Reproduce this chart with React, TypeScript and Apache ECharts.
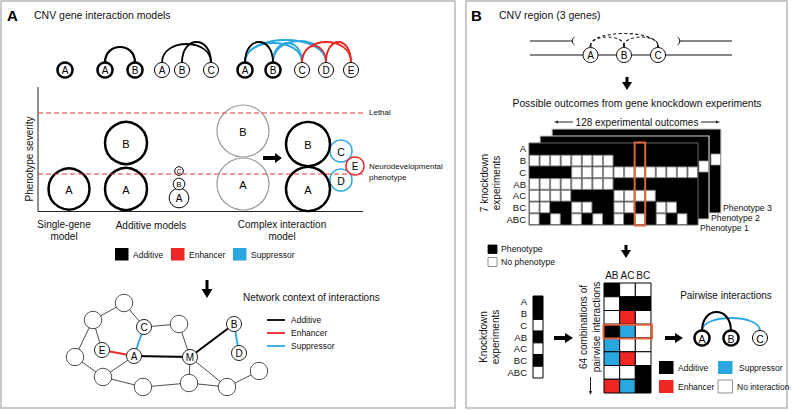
import React, { useEffect, useRef } from 'react';
import * as echarts from 'echarts';

const FONT = '"Liberation Sans", Arial, Helvetica, sans-serif';
const BLACK = '#000000';
const RED = '#ee2624';
const BLUE = '#2ba7e0';
const GRAY = '#9a9a9a';
const ORANGE = '#e0643c';
const TXT = '#111111';

// ---------- data ----------
const knockdownRows = ['A', 'B', 'C', 'AB', 'AC', 'BC', 'ABC'];
const outcomeMatrix = [
  [1, 1, 1, 1, 1, 1, 1, 1, 1, 1, 1, 1, 1, 1, 1, 1],
  [0, 0, 0, 0, 0, 0, 0, 0, 1, 1, 1, 1, 1, 1, 1, 1],
  [1, 1, 1, 1, 0, 0, 0, 0, 0, 0, 0, 0, 0, 0, 0, 0],
  [0, 0, 0, 0, 0, 0, 0, 0, 1, 1, 1, 1, 1, 1, 1, 1],
  [0, 0, 0, 0, 1, 1, 1, 1, 0, 0, 0, 0, 1, 1, 1, 1],
  [0, 0, 1, 1, 0, 0, 1, 1, 0, 0, 1, 1, 0, 0, 1, 1],
  [0, 1, 0, 1, 0, 1, 0, 1, 0, 1, 0, 1, 0, 1, 0, 1],
];
const highlightedOutcome = 10;
const phenotypeLabels = ['Phenotype 1', 'Phenotype 2', 'Phenotype 3'];
const selectedKnockdown = [1, 1, 0, 1, 0, 1, 0];
const pairNames = ['AB', 'AC', 'BC'];
const pairCombos = [
  ['add', 'none', 'none'],
  ['none', 'add', 'add'],
  ['none', 'enh', 'none'],
  ['add', 'sup', 'none'],
  ['sup', 'none', 'none'],
  ['sup', 'enh', 'none'],
  ['none', 'none', 'add'],
  ['enh', 'sup', 'add'],
];
const highlightedCombo = 3;
const interactionColors: Record<string, string> = { add: BLACK, enh: RED, sup: BLUE, none: '#ffffff' };
const modelLabels = ['Single-gene\nmodel', 'Additive models', 'Complex interaction\nmodel'];
const thresholdLabels = ['Lethal', 'Neurodevelopmental\nphenotype'];
const legendA = [
  { name: 'Additive', color: BLACK },
  { name: 'Enhancer', color: RED },
  { name: 'Suppressor', color: BLUE },
];

const netNodes = [
  { id: 'n1', x: 124, y: 303 }, { id: 'n2', x: 93, y: 320 }, { id: 'n3', x: 75, y: 357 },
  { id: 'E', x: 102, y: 350, label: 'E' }, { id: 'A', x: 134, y: 356, label: 'A' },
  { id: 'C', x: 144, y: 327, label: 'C' }, { id: 'n4', x: 179, y: 324 },
  { id: 'M', x: 190, y: 357, label: 'M' }, { id: 'B', x: 234, y: 324, label: 'B' },
  { id: 'D', x: 239, y: 353, label: 'D' }, { id: 'n5', x: 103, y: 377 },
  { id: 'n6', x: 143, y: 387 }, { id: 'n7', x: 189, y: 383 }, { id: 'n8', x: 227, y: 387 },
  { id: 'n9', x: 259, y: 371 },
];
const netEdges = [
  ['n1', 'n2', 'thin'], ['n1', 'C', 'thin'], ['n2', 'n3', 'thin'], ['n2', 'E', 'thin'],
  ['n3', 'n5', 'thin'], ['n5', 'A', 'thin'], ['n5', 'n6', 'thin'], ['n6', 'n7', 'thin'],
  ['n7', 'M', 'thin'], ['M', 'n8', 'thin'], ['n7', 'n8', 'thin'], ['n8', 'n9', 'thin'],
  ['C', 'n4', 'thin'], ['n4', 'M', 'thin'],
  ['E', 'A', 'enh'], ['A', 'C', 'sup'], ['A', 'M', 'add'], ['M', 'B', 'add'], ['B', 'D', 'sup'],
];

// ---------- helpers ----------
type Opt = { align?: string; bold?: boolean; color?: string; rotation?: number; lineHeight?: number; va?: string };
function T(text: string, x: number, y: number, size: number, o: Opt = {}) {
  const align = o.align || 'left';
  const va = o.va || 'middle';
  return {
    type: 'text', x, y, rotation: o.rotation || 0, silent: true,
    style: {
      text, x: 0, y: 0, fill: o.color || TXT, fontSize: size, fontFamily: FONT,
      fontWeight: o.bold ? 'bold' : 'normal', align, verticalAlign: va,
      textAlign: align, textVerticalAlign: va, lineHeight: o.lineHeight || size * 1.15,
    },
  };
}
function C(cx: number, cy: number, r: number, stroke: string, lw: number, label?: string, fs?: number) {
  const els: any[] = [{ type: 'circle', shape: { cx, cy, r }, style: { fill: '#fff', stroke, lineWidth: lw } }];
  if (label) els.push(T(label, cx, cy + 0.5, fs || 9, { align: 'center', color: '#000' }));
  return els;
}
function L(x1: number, y1: number, x2: number, y2: number, stroke: string, lw: number, dash?: number[]) {
  return { type: 'line', shape: { x1, y1, x2, y2 }, style: { stroke, lineWidth: lw, lineDash: dash } };
}
function R(x: number, y: number, w: number, h: number, fill: string, stroke?: string, lw = 1) {
  return { type: 'rect', shape: { x, y, width: w, height: h }, style: { fill, stroke: stroke || 'none', lineWidth: lw } };
}
function arcLink(xa: number, xb: number, yb: number, peak: number, stroke: string, lw: number, dash?: number[]) {
  const H = (yb - peak) / 0.75;
  return {
    type: 'bezierCurve',
    shape: { x1: xa, y1: yb, x2: xb, y2: yb, cpx1: xa, cpy1: yb - H, cpx2: xb, cpy2: yb - H },
    style: { stroke, lineWidth: lw, fill: 'none', lineDash: dash },
  };
}
function fatArrow(x1: number, y1: number, x2: number, y2: number, hl: number, hw: number, sw: number) {
  const dx = x2 - x1, dy = y2 - y1; const len = Math.hypot(dx, dy);
  const ux = dx / len, uy = dy / len; const nx = -uy, ny = ux;
  const bx = x2 - ux * hl, by = y2 - uy * hl;
  const pts = [
    [x1 + nx * sw / 2, y1 + ny * sw / 2], [bx + nx * sw / 2, by + ny * sw / 2], [bx + nx * hw / 2, by + ny * hw / 2],
    [x2, y2], [bx - nx * hw / 2, by - ny * hw / 2], [bx - nx * sw / 2, by - ny * sw / 2], [x1 - nx * sw / 2, y1 - ny * sw / 2],
  ];
  return { type: 'polygon', shape: { points: pts }, style: { fill: BLACK } };
}
function thinArrow(x1: number, y1: number, x2: number, y2: number) {
  const dx = x2 - x1, dy = y2 - y1; const len = Math.hypot(dx, dy);
  const ux = dx / len, uy = dy / len; const nx = -uy, ny = ux;
  const hl = 4, hw = 3.2;
  const bx = x2 - ux * hl, by = y2 - uy * hl;
  return [
    L(x1, y1, bx, by, '#222', 1),
    { type: 'polygon', shape: { points: [[x2, y2], [bx + nx * hw / 2, by + ny * hw / 2], [bx - nx * hw / 2, by - ny * hw / 2]] }, style: { fill: '#222' } },
  ];
}

function buildElements() {
  const els: any[] = [];
  // panel frames
  els.push(R(1, 1, 454, 407, 'none', '#b8b8b8', 1.5));
  els.push(R(466, 1, 321, 407, 'none', '#b8b8b8', 1.5));

  // ===== Panel A =====
  els.push(T('A', 7, 15, 15, { bold: true, color: '#000' }));
  els.push(T('CNV gene interaction models', 34, 15, 10.5));

  // top interaction models row
  const ty = 70, tr = 7.5, top = ty - tr;
  els.push(arcLink(105, 135, top, 47, BLACK, 2.2));
  els.push(arcLink(162, 211, top, 44, BLACK, 1.8));
  els.push(arcLink(182, 211, top, 42, BLACK, 1.8));
  els.push(arcLink(245, 302, top, 43, BLUE, 1.8));
  els.push(arcLink(273, 302, top, 43, BLUE, 1.8));
  els.push(arcLink(273, 326, top, 41, BLUE, 1.8));
  els.push(arcLink(245, 326, top, 40, BLUE, 1.8));
  els.push(arcLink(302, 351, top, 42, RED, 1.8));
  els.push(arcLink(326, 351, top, 42, RED, 1.8));
  els.push(arcLink(302, 326, top, 46, RED, 1.5));
  els.push(arcLink(245, 273, top, 42, BLACK, 1.8));
  els.push(...C(65, ty, tr, BLACK, 2.5, 'A', 10));
  els.push(...C(105, ty, tr, BLACK, 2.5, 'A', 10));
  els.push(...C(135, ty, tr, BLACK, 2.5, 'B', 10));
  els.push(...C(162, ty, tr, BLACK, 1, 'A', 10));
  els.push(...C(182, ty, tr, BLACK, 1, 'B', 10));
  els.push(...C(211, ty, tr, BLACK, 1, 'C', 10));
  els.push(...C(245, ty, tr, BLACK, 2.5, 'A', 10));
  els.push(...C(273, ty, tr, BLACK, 2.5, 'B', 10));
  els.push(...C(302, ty, tr, BLACK, 1, 'C', 10));
  els.push(...C(326, ty, tr, BLACK, 1, 'D', 10));
  els.push(...C(351, ty, tr, BLACK, 1, 'E', 10));

  // axes
  els.push(L(38, 87, 38, 211.5, '#222', 1));
  els.push(L(38, 211.5, 363, 211.5, '#222', 1));
  els.push(T('Phenotype severity', 29, 159, 10, { align: 'center', rotation: Math.PI / 2 }));

  // circles
  els.push(...C(69, 189, 20.5, BLACK, 2.5, 'A', 11));
  els.push(...C(126, 189, 21, BLACK, 2.5, 'A', 11));
  els.push(...C(126, 143, 21, BLACK, 2.5, 'B', 11));
  els.push(...C(179, 198, 9.8, BLACK, 1, 'A', 10));
  els.push(...C(179, 184, 5.8, BLACK, 1, 'B', 8));
  els.push(...C(179, 171, 4.3, BLACK, 1, 'C', 6.5));
  els.push(...C(243, 184, 26, GRAY, 1.2, 'A', 11));
  els.push(...C(243, 131, 26, GRAY, 1.2, 'B', 11));
  els.push(fatArrow(263, 158, 282, 158, 7, 10, 4));
  els.push(...C(341, 151, 11, BLUE, 1.5, 'C', 10.5));
  els.push(...C(341, 180, 11, BLUE, 1.5, 'D', 10.5));
  els.push(...C(355, 166, 9, RED, 1.5, 'E', 10));
  els.push(...C(308, 189, 22, BLACK, 2.5, 'A', 11));
  els.push(...C(308, 144, 22, BLACK, 2.5, 'B', 11));

  // threshold lines
  els.push(L(38, 113, 363, 113, '#e03a3a', 1.2, [5, 3]));
  els.push(L(38, 174, 363, 174, '#e03a3a', 1.2, [5, 3]));
  els.push(T(thresholdLabels[0], 369, 112, 8));
  els.push(T(thresholdLabels[1], 369, 172, 8, { lineHeight: 10.5 }));

  // model labels
  els.push(T(modelLabels[0], 64, 230.5, 10, { align: 'center', lineHeight: 11.5 }));
  els.push(T(modelLabels[1], 151, 225, 10, { align: 'center' }));
  els.push(T(modelLabels[2], 282, 230.5, 10, { align: 'center', lineHeight: 11.5 }));

  // legend A
  const lgx = [115, 171, 233];
  legendA.forEach((it, i) => {
    els.push(R(lgx[i], 248, 13.5, 12.5, it.color));
    els.push(T(it.name, lgx[i] + 18, 254.5, 8.5));
  });

  // down arrow
  els.push(fatArrow(207, 280, 207, 298, 9, 11, 3));

  // network
  els.push(T('Network context of interactions', 243, 297, 10));
  const nl = [
    { name: 'Additive', color: BLACK, y: 320 },
    { name: 'Enhancer', color: RED, y: 333 },
    { name: 'Suppressor', color: BLUE, y: 346 },
  ];
  nl.forEach((it) => {
    els.push(L(267, it.y, 285, it.y, it.color, 1.8));
    els.push(T(it.name, 291, it.y - 0.5, 8.5));
  });
  const byId: Record<string, any> = {};
  netNodes.forEach((n) => (byId[n.id] = n));
  netEdges.forEach(([a, b, kind]) => {
    const p = byId[a], q = byId[b];
    const color = kind === 'thin' ? '#222' : kind === 'add' ? BLACK : kind === 'enh' ? RED : BLUE;
    const lw = kind === 'thin' ? 0.8 : kind === 'add' ? 2 : 1.8;
    els.push(L(p.x, p.y, q.x, q.y, color, lw));
  });
  netNodes.forEach((n) => {
    if (n.label) els.push(...C(n.x, n.y, 7.5, '#222', 1, n.label, 10));
    else els.push(...C(n.x, n.y, 8.7, '#222', 0.8));
  });

  // ===== Panel B =====
  els.push(T('B', 471, 15, 15, { bold: true, color: '#000' }));
  els.push(T('CNV region (3 genes)', 499, 15, 10.5));

  // chromosome
  els.push(L(530, 41, 572, 41, '#111', 1.2));
  els.push({ type: 'bezierCurve', shape: { x1: 574.5, y1: 37, x2: 574.5, y2: 45, cpx1: 571.5, cpy1: 39, cpx2: 571.5, cpy2: 43 }, style: { stroke: '#111', lineWidth: 1, fill: 'none' } });
  els.push(L(680, 41, 732, 41, '#111', 1.2));
  els.push({ type: 'bezierCurve', shape: { x1: 677.5, y1: 37, x2: 677.5, y2: 45, cpx1: 680.5, cpy1: 39, cpx2: 680.5, cpy2: 43 }, style: { stroke: '#111', lineWidth: 1, fill: 'none' } });
  els.push(L(530, 55, 732, 55, '#111', 1.2));
  els.push(arcLink(590.5, 658, 46, 33.5, '#111', 1.1, [3, 2.5]));
  els.push(arcLink(590.5, 624, 46, 37, '#111', 1.1, [3, 2.5]));
  els.push(arcLink(624, 658, 46, 37, '#111', 1.1, [3, 2.5]));
  [590.5, 624, 658].forEach((x, i) => {
    els.push(...C(x, 55, 7.5, '#111', 1, ['A', 'B', 'C'][i], 10));
    els.push({ type: 'circle', shape: { cx: x, cy: 46, r: 1.1 }, style: { fill: '#111' } });
  });

  els.push(fatArrow(627, 77, 627, 90, 8, 10, 3));
  els.push(T('Possible outcomes from gene knockdown experiments', 637, 103, 10.3, { align: 'center' }));
  els.push(T('128 experimental outcomes', 637, 122, 10, { align: 'center' }));
  els.push(...thinArrow(573, 122, 554, 122));
  els.push(...thinArrow(701, 122, 720, 122));

  // back sheets
  els.push(R(552, 129, 169, 84, BLACK, '#cfcfcf', 1.2));
  els.push(R(711, 154, 9.5, 11, '#ffffff', '#999', 0.8));
  els.push(R(540, 136, 169, 83, BLACK, '#cfcfcf', 1.2));
  els.push(R(699, 161, 9.5, 11, '#ffffff', '#999', 0.8));

  // front grid
  const gx = 529, gy = 143, gw = 169, gh = 82;
  const cw = gw / 16, ch = gh / 7;
  els.push(R(gx, gy, gw, gh, BLACK));
  outcomeMatrix.forEach((row, ri) => {
    row.forEach((v, ci) => {
      if (!v) els.push(R(gx + ci * cw + 0.5, gy + ri * ch + 0.5, cw - 1, ch - 1, '#ffffff', '#8a8a8a', 1));
    });
  });
  els.push(R(gx, gy, gw, gh, 'none', '#666', 1));
  els.push(R(gx + highlightedOutcome * cw, gy - 0.5, cw, gh + 1, 'none', ORANGE, 2));
  knockdownRows.forEach((lab, ri) => {
    els.push(T(lab, 526, gy + (ri + 0.5) * ch, 9.5, { align: 'right' }));
  });
  els.push(T('7 knockdown\nexperiments', 490.5, 183, 10, { align: 'center', rotation: Math.PI / 2, lineHeight: 12.5 }));
  els.push(T(phenotypeLabels[2], 723, 208, 8.7));
  els.push(T(phenotypeLabels[1], 711, 218, 8.7));
  els.push(T(phenotypeLabels[0], 700, 228, 8.7));

  // phenotype legend
  els.push(R(488, 245, 9, 8.5, BLACK, BLACK, 0.8));
  els.push(T('Phenotype', 501, 249, 8.7));
  els.push(R(488, 257.5, 9, 9, '#ffffff', '#777', 0.8));
  els.push(T('No phenotype', 501, 262, 8.7));

  els.push(fatArrow(626, 245, 626, 258, 8, 10, 3));

  // knockdown column
  const kx = 533, ky = 296, kw = 10, kh = 82 / 7;
  selectedKnockdown.forEach((v, i) => {
    els.push(R(kx, ky + i * kh, kw, kh, v ? BLACK : '#ffffff', BLACK, 1));
    els.push(T(knockdownRows[i], 527, ky + (i + 0.5) * kh, 9.5, { align: 'right' }));
  });
  els.push(T('Knockdown\nexperiments', 489.5, 337, 10, { align: 'center', rotation: Math.PI / 2, lineHeight: 12.5 }));
  els.push(fatArrow(554, 338, 573, 338, 8, 10, 4));

  // pair combos grid
  const px = 604, py = 283, pw = 47 / 3, ph = 110 / 8;
  pairNames.forEach((n, i) => els.push(T(n, px + (i + 0.5) * pw, 275, 10, { align: 'center' })));
  pairCombos.forEach((row, ri) => {
    row.forEach((v, ci) => {
      els.push(R(px + ci * pw, py + ri * ph, pw, ph, interactionColors[v], BLACK, 1));
    });
  });
  els.push(R(px - 0.5, py + highlightedCombo * ph + 0.5, 3 * pw + 1.5, ph, 'none', ORANGE, 2));
  els.push(T('64 combinations of\npairwise interactions', 590, 327, 10, { align: 'center', rotation: Math.PI / 2, lineHeight: 13.5 }));
  els.push(...thinArrow(590.5, 377, 590.5, 395));

  els.push(fatArrow(665, 338, 683, 338, 8, 10, 4));

  // pairwise result
  els.push(T('Pairwise interactions', 726, 295, 10, { align: 'center' }));
  els.push(arcLink(702, 760, 331, 318, BLUE, 1.8));
  els.push(arcLink(702, 731, 331, 312, BLACK, 2));
  els.push(...C(702, 338, 7.5, BLACK, 2.5, 'A', 10.5));
  els.push(...C(731, 338, 7.5, BLACK, 2.5, 'B', 10.5));
  els.push(...C(760, 338, 7.5, BLACK, 1, 'C', 10.5));

  // legend B
  const lb = [
    { name: 'Additive', color: BLACK, x: 659, y: 361, dx: 19 },
    { name: 'Suppressor', color: BLUE, x: 718, y: 361, dx: 21 },
    { name: 'Enhancer', color: RED, x: 659, y: 380, dx: 19 },
    { name: 'No interaction', color: '#ffffff', x: 718, y: 380, dx: 19 },
  ];
  lb.forEach((it) => {
    els.push(R(it.x, it.y, 14.5, 13, it.color, it.color === '#ffffff' ? '#777' : 'none', 0.8));
    els.push(T(it.name, it.x + it.dx, it.y + 6.5, 8.5));
  });
  return els;
}

export default function App() {
  const ref = useRef<HTMLDivElement>(null);
  useEffect(() => {
    if (!ref.current) return;
    const chart = echarts.init(ref.current, undefined, { renderer: 'svg' });
    chart.setOption({ animation: false, backgroundColor: '#ffffff', graphic: { elements: buildElements() } });
    return () => chart.dispose();
  }, []);
  return <div ref={ref} style={{ position: 'absolute', left: 0, top: 0, width: 792, height: 410 }} />;
}
